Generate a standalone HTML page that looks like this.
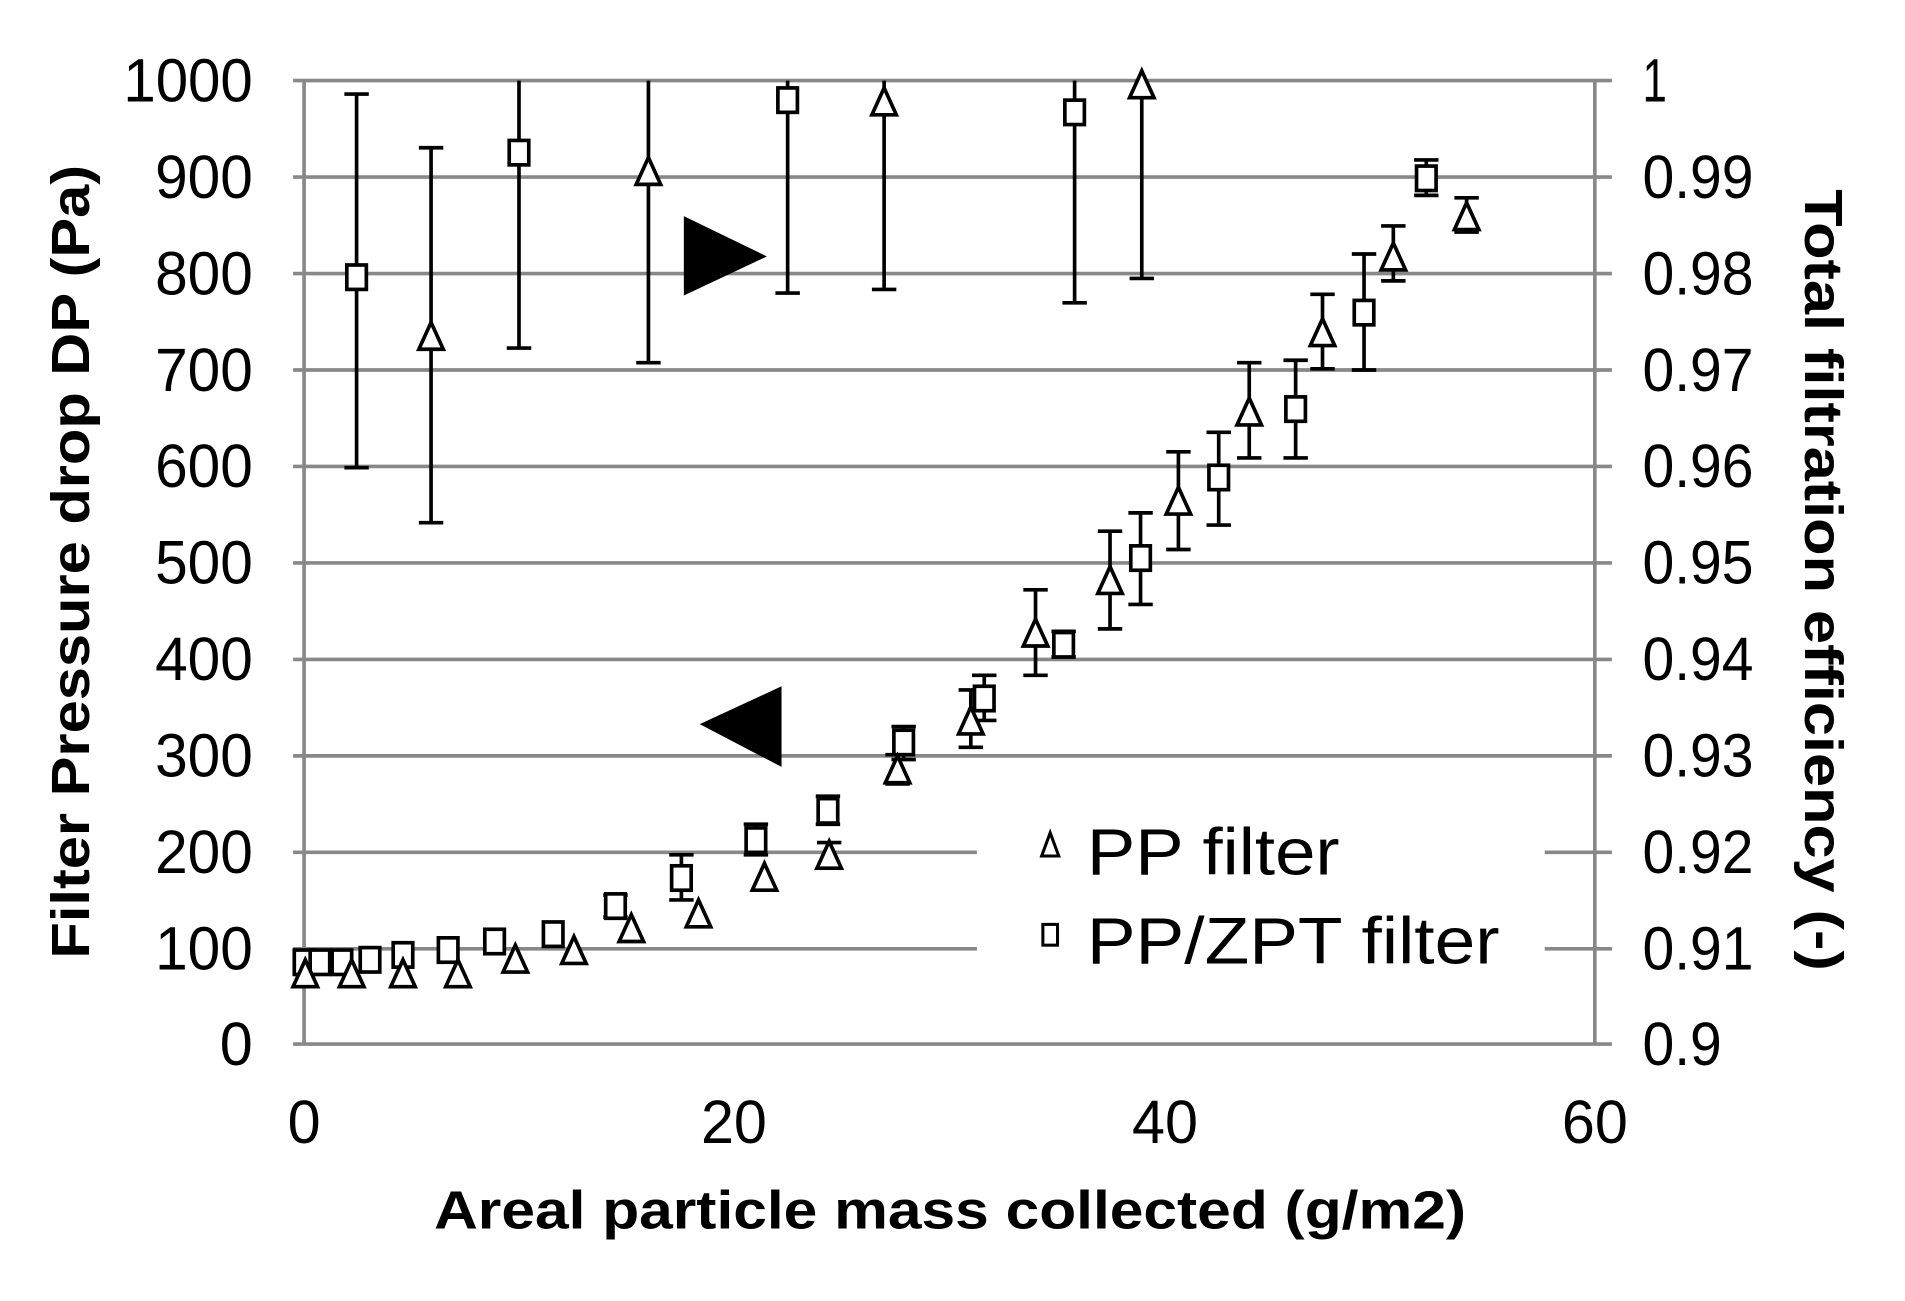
<!DOCTYPE html>
<html><head><meta charset="utf-8"><style>html,body{margin:0;padding:0;background:#fff}svg{display:block}</style></head>
<body>
<svg width="1905" height="1301" viewBox="0 0 1560 1065.4" preserveAspectRatio="none" xmlns="http://www.w3.org/2000/svg" font-family="Liberation Sans, sans-serif">
<rect width="1560" height="1066" fill="#fff"/>
<g stroke="#888" stroke-width="3">
<line x1="240" y1="66" x2="1320" y2="66"/>
<line x1="240" y1="145" x2="1320" y2="145"/>
<line x1="240" y1="224" x2="1320" y2="224"/>
<line x1="240" y1="303" x2="1320" y2="303"/>
<line x1="240" y1="382" x2="1320" y2="382"/>
<line x1="240" y1="461" x2="1320" y2="461"/>
<line x1="240" y1="540" x2="1320" y2="540"/>
<line x1="240" y1="619" x2="1320" y2="619"/>
<line x1="240" y1="698" x2="800" y2="698"/><line x1="1265" y1="698" x2="1320" y2="698"/>
<line x1="240" y1="777" x2="800" y2="777"/><line x1="1265" y1="777" x2="1320" y2="777"/>
<line x1="240" y1="855" x2="1320" y2="855"/>
<line x1="249" y1="66" x2="249" y2="855"/>
<line x1="1306" y1="66" x2="1306" y2="855"/>
</g>
<g font-size="50" fill="#000" text-anchor="end">
<text x="207" y="83" textLength="106" lengthAdjust="spacingAndGlyphs">1000</text><text x="207" y="162" textLength="80" lengthAdjust="spacingAndGlyphs">900</text><text x="207" y="241" textLength="80" lengthAdjust="spacingAndGlyphs">800</text><text x="207" y="320" textLength="80" lengthAdjust="spacingAndGlyphs">700</text><text x="207" y="399" textLength="80" lengthAdjust="spacingAndGlyphs">600</text><text x="207" y="478" textLength="80" lengthAdjust="spacingAndGlyphs">500</text><text x="207" y="557" textLength="80" lengthAdjust="spacingAndGlyphs">400</text><text x="207" y="636" textLength="80" lengthAdjust="spacingAndGlyphs">300</text><text x="207" y="715" textLength="80" lengthAdjust="spacingAndGlyphs">200</text><text x="207" y="794" textLength="80" lengthAdjust="spacingAndGlyphs">100</text><text x="207" y="872" textLength="27" lengthAdjust="spacingAndGlyphs">0</text>
</g>
<g font-size="50" fill="#000">
<text x="1345" y="83" textLength="20" lengthAdjust="spacingAndGlyphs">1</text><text x="1345" y="162" textLength="91" lengthAdjust="spacingAndGlyphs">0.99</text><text x="1345" y="241" textLength="91" lengthAdjust="spacingAndGlyphs">0.98</text><text x="1345" y="320" textLength="91" lengthAdjust="spacingAndGlyphs">0.97</text><text x="1345" y="399" textLength="91" lengthAdjust="spacingAndGlyphs">0.96</text><text x="1345" y="478" textLength="91" lengthAdjust="spacingAndGlyphs">0.95</text><text x="1345" y="557" textLength="91" lengthAdjust="spacingAndGlyphs">0.94</text><text x="1345" y="636" textLength="91" lengthAdjust="spacingAndGlyphs">0.93</text><text x="1345" y="715" textLength="91" lengthAdjust="spacingAndGlyphs">0.92</text><text x="1345" y="794" textLength="91" lengthAdjust="spacingAndGlyphs">0.91</text><text x="1345" y="872" textLength="65" lengthAdjust="spacingAndGlyphs">0.9</text>
</g>
<g font-size="50" fill="#000" text-anchor="middle">
<text x="249" y="936" textLength="27" lengthAdjust="spacingAndGlyphs">0</text><text x="601" y="936" textLength="54" lengthAdjust="spacingAndGlyphs">20</text><text x="954" y="936" textLength="54" lengthAdjust="spacingAndGlyphs">40</text><text x="1306" y="936" textLength="54" lengthAdjust="spacingAndGlyphs">60</text>
</g>
<text x="778" y="1006" font-size="44" font-weight="bold" text-anchor="middle" textLength="845" lengthAdjust="spacingAndGlyphs">Areal particle mass collected (g/m2)</text>
<text transform="translate(73,460) rotate(-90)" font-size="44" font-weight="bold" text-anchor="middle" textLength="650" lengthAdjust="spacingAndGlyphs">Filter Pressure drop DP (Pa)</text>
<text transform="translate(1478,475) rotate(90)" font-size="44" font-weight="bold" text-anchor="middle" textLength="640" lengthAdjust="spacingAndGlyphs">Total filtration efficiency (-)</text>
<polygon points="560,177 560,242 628,210" fill="#000"/>
<polygon points="573,593 640,562 640,628" fill="#000"/>
<g stroke="#000" stroke-width="3" fill="none">
<path d="M292,77V383M282,77H302M282,383H302"/>
<path d="M353,121V428M343,121H363M343,428H363"/>
<path d="M425,66V285M415,285H435"/>
<path d="M531,66V297M521,297H541"/>
<path d="M645,66V240M635,240H655"/>
<path d="M724,66V237M714,237H734"/>
<path d="M880,66V248M870,248H890"/>
<path d="M935,66V228M925,228H945"/>
<path d="M679,690V710M669,690H689M669,710H689"/>
<path d="M735,618V642M725,618H745M725,642H745"/>
<path d="M795,565V612M785,565H805M785,612H805"/>
<path d="M848,483V553M838,483H858M838,553H858"/>
<path d="M909,435V515M899,435H919M899,515H919"/>
<path d="M965,370V450M955,370H975M955,450H975"/>
<path d="M1023,297V375M1013,297H1033M1013,375H1033"/>
<path d="M1083,241V302M1073,241H1093M1073,302H1093"/>
<path d="M1141,185V230M1131,185H1151M1131,230H1151"/>
<path d="M1201,162V190M1191,162H1211M1191,190H1211"/>
<path d="M504,733V751M494,733H514M494,751H514"/>
<path d="M558,700V737M548,700H568M548,737H568"/>
<path d="M619,675V700M609,675H629M609,700H629"/>
<path d="M678,652V675M668,652H688M668,675H688"/>
<path d="M740,595V622M730,595H750M730,622H750"/>
<path d="M806,553V590M796,553H816M796,590H816"/>
<path d="M871,517V538M861,517H881M861,538H881"/>
<path d="M934,420V495M924,420H944M924,495H944"/>
<path d="M998,354V430M988,354H1008M988,430H1008"/>
<path d="M1061,295V375M1051,295H1071M1051,375H1071"/>
<path d="M1117,208V303M1107,208H1127M1107,303H1127"/>
<path d="M1168,131V160M1158,131H1178M1158,160H1178"/>
</g>
<g stroke="#000" stroke-width="3" fill="#fff">
<rect x="284" y="217" width="16" height="20"/>
<rect x="417" y="115" width="16" height="20"/>
<rect x="637" y="72" width="16" height="20"/>
<rect x="872" y="82" width="16" height="20"/>
<rect x="241" y="778" width="16" height="20"/>
<rect x="254" y="778" width="16" height="20"/>
<rect x="272" y="778" width="16" height="20"/>
<rect x="295" y="776" width="16" height="20"/>
<rect x="322" y="772" width="16" height="20"/>
<rect x="359" y="768" width="16" height="20"/>
<rect x="397" y="761" width="16" height="20"/>
<rect x="445" y="755" width="16" height="20"/>
<rect x="496" y="732" width="16" height="20"/>
<rect x="550" y="709" width="16" height="20"/>
<rect x="611" y="678" width="16" height="20"/>
<rect x="670" y="654" width="16" height="20"/>
<rect x="732" y="598" width="16" height="20"/>
<rect x="798" y="562" width="16" height="20"/>
<rect x="863" y="518" width="16" height="20"/>
<rect x="926" y="447" width="16" height="20"/>
<rect x="990" y="381" width="16" height="20"/>
<rect x="1053" y="325" width="16" height="20"/>
<rect x="1109" y="246" width="16" height="20"/>
<rect x="1160" y="136" width="16" height="20"/>
<path d="M353,264l-10,22h20z"/>
<path d="M531,129l-10,22h20z"/>
<path d="M724,72l-10,22h20z"/>
<path d="M935,58l-10,22h20z"/>
<path d="M250,786l-10,22h20z"/>
<path d="M288,786l-10,22h20z"/>
<path d="M330,786l-10,22h20z"/>
<path d="M375,786l-10,22h20z"/>
<path d="M422,774l-10,22h20z"/>
<path d="M470,767l-10,22h20z"/>
<path d="M517,749l-10,22h20z"/>
<path d="M572,737l-10,22h20z"/>
<path d="M626,707l-10,22h20z"/>
<path d="M679,689l-10,22h20z"/>
<path d="M735,619l-10,22h20z"/>
<path d="M795,579l-10,22h20z"/>
<path d="M848,507l-10,22h20z"/>
<path d="M909,464l-10,22h20z"/>
<path d="M965,399l-10,22h20z"/>
<path d="M1023,326l-10,22h20z"/>
<path d="M1083,261l-10,22h20z"/>
<path d="M1141,199l-10,22h20z"/>
<path d="M1201,166l-10,22h20z"/>
<path d="M860,682l-7,19h14z" stroke-width="2.5"/>
<rect x="854" y="757" width="12" height="17" stroke-width="2.5"/>
</g>
<text x="890" y="716" font-size="54" textLength="207" lengthAdjust="spacingAndGlyphs">PP filter</text>
<text x="890" y="789" font-size="54" textLength="338" lengthAdjust="spacingAndGlyphs">PP/ZPT filter</text>
</svg>
</body></html>
